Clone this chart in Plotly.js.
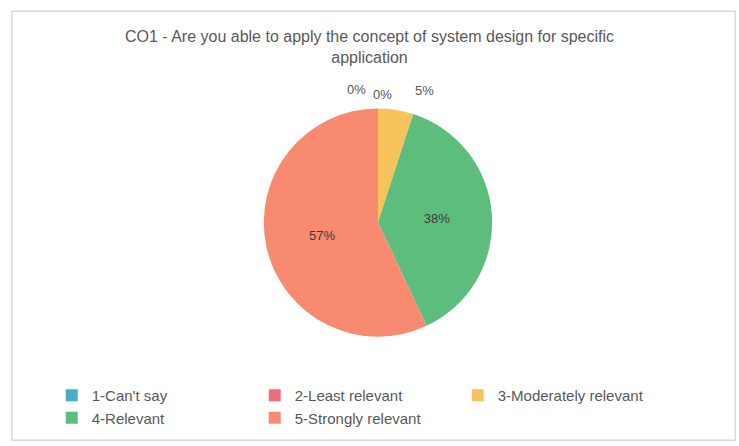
<!DOCTYPE html>
<html><head><meta charset="utf-8">
<script src="https://cdn.plot.ly/plotly-3.0.1.min.js"></script>
<style>html,body{margin:0;padding:0;background:#fff;}#chart{width:739px;height:446px;}</style>
</head><body><div id="chart"></div>
<script>
const categories = ["1-Can't say", "2-Least relevant", "3-Moderately relevant", "4-Relevant", "5-Strongly relevant"];
const values = [0, 0, 5, 38, 57];
const colors = ["#4bacc6", "#f06d7f", "#f7c35c", "#5dbd7c", "#f88a70"];
const titleText = "CO1 - Are you able to apply the concept of system design for specific<br>application";
// label anchor spots (paper fractions) for the small slices drawn above the pie
const outsideLabelPos = [[0.483, 0.800], [0.518, 0.787], [0.575, 0.798]];

const FONT = 'Liberation Sans, Arial, sans-serif';
const total = values.reduce((a, b) => a + b, 0);

const trace = {
  type: 'pie',
  labels: categories,
  values: values,
  sort: false,
  direction: 'clockwise',
  rotation: 0,
  marker: {colors: colors, line: {color: '#ffffff', width: 0}},
  textinfo: 'percent',
  texttemplate: '%{percent:.0%}',
  textposition: values.map(v => (v / total >= 0.2 ? 'inside' : 'none')),
  insidetextorientation: 'horizontal',
  textfont: {family: FONT, size: 13, color: '#3a3a3a'},
  domain: {x: [0.357, 0.666], y: [0.244, 0.758]},
  hoverinfo: 'label+percent',
  showlegend: true
};

const annotations = [];
values.forEach((v, i) => {
  if (v / total < 0.2) {
    const p = outsideLabelPos[annotations.length];
    annotations.push({
      xref: 'paper', yref: 'paper', x: p[0], y: p[1], xanchor: 'center', yanchor: 'middle',
      text: Math.round(v / total * 100) + '%', showarrow: false,
      font: {family: FONT, size: 13, color: '#595959'}
    });
  }
});

const layout = {
  width: 739, height: 446,
  margin: {l: 0, r: 0, t: 0, b: 0},
  paper_bgcolor: '#ffffff',
  font: {family: FONT, color: '#595959'},
  title: {text: titleText, x: 0.5, xanchor: 'center', y: 0.905, yanchor: 'middle',
          font: {size: 16, color: '#595959', family: FONT}},
  legend: {orientation: 'h', x: 0.070, xanchor: 'left', y: 0.15, yanchor: 'top',
           entrywidth: 158, entrywidthmode: 'pixels', traceorder: 'normal',
           font: {size: 15, color: '#595959', family: FONT}, bgcolor: 'rgba(0,0,0,0)'},
  annotations: annotations,
  shapes: [{type: 'rect', xref: 'paper', yref: 'paper', x0: 0.016, x1: 0.995, y0: 0.013, y1: 0.975,
            line: {color: '#d9d9d9', width: 1.5}, fillcolor: 'rgba(0,0,0,0)'}]
};

Plotly.newPlot('chart', [trace], layout, {displayModeBar: false, staticPlot: true});
</script></body></html>
